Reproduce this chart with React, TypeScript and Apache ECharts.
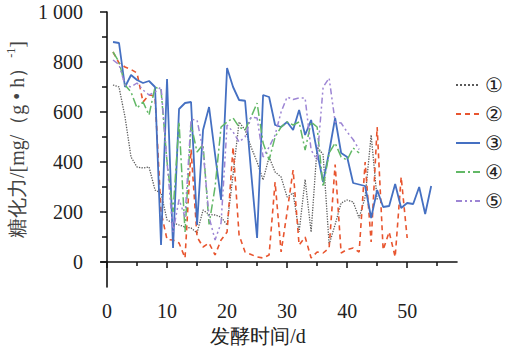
import React, { useEffect, useRef } from "react";
import * as echarts from "echarts";

const seriesNames = ["①", "②", "③", "④", "⑤"];

// values for day 1, 2, 3, ...
const s1Values = [708, 700, 580, 420, 380, 376, 380, 288, 276, 168, 156, 148, 140, 136, 116, 208, 190, 188, 180, 148, 350, 560, 528, 460, 400, 328, 420, 360, 340, 260, 276, 120, 330, 120, 460, 430, 70, 150, 236, 248, 240, 176, 260, 508, 250];
const s2Values = [840, 796, 780, 770, 756, 640, 668, 664, 200, 90, 88, 76, 16, 450, 100, 60, 76, 28, 88, 120, 460, 108, 40, 30, 20, 16, 28, 320, 40, 200, 368, 68, 100, 16, 40, 36, 56, 390, 36, 50, 56, 40, 400, 80, 540, 48, 120, 20, 340, 96];
const s3Values = [880, 876, 700, 748, 728, 716, 724, 700, 68, 732, 56, 612, 636, 640, 148, 528, 620, 430, 248, 776, 700, 648, 645, 360, 96, 668, 660, 548, 540, 560, 528, 608, 508, 568, 440, 320, 440, 576, 436, 420, 316, 310, 304, 176, 288, 220, 224, 312, 216, 236, 232, 300, 192, 304];
const s4Values = [840, 800, 708, 680, 616, 640, 588, 700, 688, 400, 200, 560, 120, 550, 440, 470, 150, 300, 540, 560, 576, 540, 528, 580, 636, 476, 408, 500, 540, 560, 548, 560, 448, 560, 540, 300, 436, 476, 420, 408, 456, 436];
const s5Values = [808, 790, 708, 700, 716, 688, 668, 680, 700, 400, 120, 250, 180, 570, 568, 448, 180, 88, 156, 548, 520, 480, 500, 580, 576, 420, 460, 508, 600, 660, 650, 656, 656, 448, 408, 700, 736, 560, 556, 520, 490, 450];

const xMajorTicks = [0, 10, 20, 30, 40, 50];
const xMinorTicks = [5, 15, 25, 35, 45, 55];
const yMajorTicks = [0, 200, 400, 600, 800, 1000];
const yMinorTicks = [100, 300, 500, 700, 900];

const allValues = [s1Values, s2Values, s3Values, s4Values, s5Values];
const colors = ["#5a5a5a", "#e8552f", "#4570c2", "#62b866", "#9d85d4"];
const lineTypes: any[] = ["dotted", [5, 4], "solid", [9, 3, 2, 3], [6, 3, 2, 3, 2, 3]];
const widths = [1.3, 1.6, 1.8, 1.5, 1.5];

const FONT = "Liberation Serif";

export default function App() {
  const ref = useRef<HTMLDivElement>(null);
  useEffect(() => {
    if (!ref.current) return;
    const chart = echarts.init(ref.current, null, { renderer: "svg" });
    const axisLine = { show: true, lineStyle: { color: "#111", width: 1.6 } };
    chart.setOption({
      animation: false,
      backgroundColor: "#fff",
      textStyle: { fontFamily: FONT },
      grid: { left: 101, right: 56, top: 12, bottom: 71, outerBoundsMode: "none" },
      legend: {
        orient: "vertical",
        left: 455,
        top: 75,
        padding: 0,
        itemWidth: 24,
        itemHeight: 14,
        itemGap: 9,
        data: seriesNames,
        itemStyle: { opacity: 0 },
        textStyle: { fontSize: 20, lineHeight: 20, color: "#222", fontFamily: FONT },
      },
      xAxis: [
        {
          type: "value",
          min: -1,
          max: 58.3,
          position: "bottom",
          splitLine: { show: false },
          axisLine,
          axisTick: { show: true, inside: false, length: 6, customValues: xMajorTicks, lineStyle: { color: "#111", width: 1.5 } },
          axisLabel: { customValues: xMajorTicks, fontSize: 20, color: "#222", fontFamily: FONT, margin: 14 },
          name: "发酵时间/d",
          nameLocation: "middle",
          nameGap: 31,
          nameTextStyle: { fontSize: 20, color: "#222", fontFamily: FONT, padding: [0, 42, 0, 0] },
        },
        {
          type: "value",
          min: -1,
          max: 58.3,
          position: "bottom",
          splitLine: { show: false },
          axisLine: { show: false },
          axisTick: { show: true, inside: false, length: 4, customValues: xMinorTicks, lineStyle: { color: "#111", width: 1.5 } },
          axisLabel: { show: false },
        },
      ],
      yAxis: [
        {
          type: "value",
          min: -100,
          max: 1000,
          position: "left",
          splitLine: { show: false },
          axisLine,
          axisTick: { show: true, inside: false, length: 7, customValues: yMajorTicks, lineStyle: { color: "#111", width: 1.5 } },
          axisLabel: {
            customValues: yMajorTicks,
            fontSize: 20,
            color: "#222",
            fontFamily: FONT,
            margin: 18,
            formatter: (v: number) => (v === 1000 ? "1 000" : String(v)),
          },
          name: "糖化力/[mg/（g • h）{sup|-1}]",
          nameLocation: "middle",
          nameRotate: 90,
          nameGap: 70,
          nameTextStyle: {
            fontSize: 20,
            color: "#444",
            fontFamily: FONT,
            padding: [0, 0, 0, 20],
            rich: { sup: { fontSize: 12, color: "#444", fontFamily: FONT, padding: [0, 0, 12, 0] } },
          },
        },
        {
          type: "value",
          min: -100,
          max: 1000,
          position: "left",
          splitLine: { show: false },
          axisLine: { show: false },
          axisTick: { show: true, inside: false, length: 5, customValues: yMinorTicks, lineStyle: { color: "#111", width: 1.5 } },
          axisLabel: { show: false },
        },
      ],
      series: seriesNames.map((name, i) => ({
        name,
        type: "line",
        xAxisIndex: 0,
        yAxisIndex: 0,
        showSymbol: false,
        symbol: "none",
        data: allValues[i].map((v, d) => [d + 1, v]),
        itemStyle: { color: colors[i] },
        lineStyle: { color: colors[i], width: widths[i], type: lineTypes[i] },
      })),
    });
    return () => chart.dispose();
  }, []);
  return (
    <div
      ref={ref}
      style={{ position: "fixed", left: 0, top: 0, width: 513, height: 358, background: "#fff" }}
    />
  );
}
